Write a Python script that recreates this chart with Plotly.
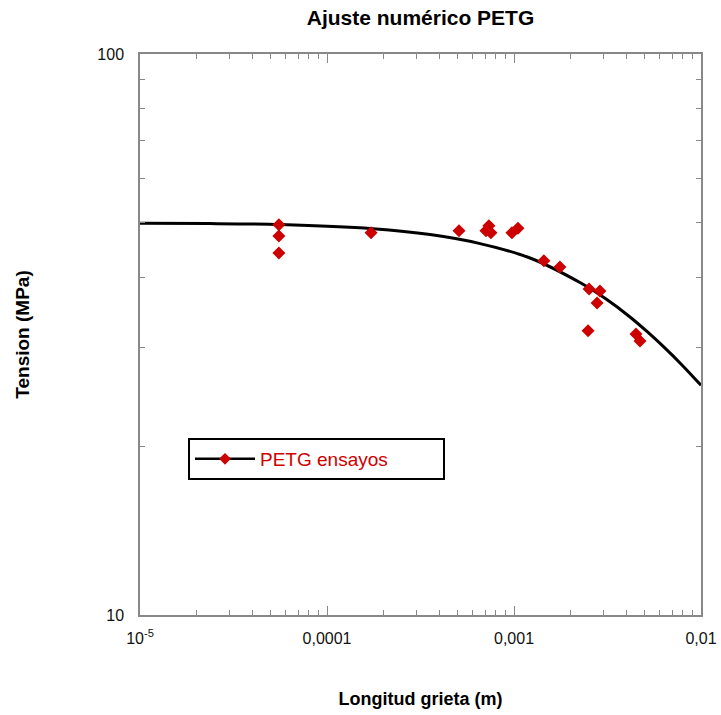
import plotly.graph_objects as go

# Experimental data (PETG ensayos)
crack_len = [5.53e-5, 5.53e-5, 5.53e-5, 1.72e-4, 5.08e-4, 7.08e-4, 7.34e-4, 7.53e-4,
             9.75e-4, 1.05e-3, 1.445e-3, 1.76e-3, 2.52e-3, 2.88e-3, 2.78e-3, 2.49e-3,
             4.49e-3, 4.72e-3]
stress = [49.6, 47.4, 44.2, 48.0, 48.4, 48.4, 49.4, 48.0,
          48.0, 48.9, 42.8, 41.7, 38.1, 37.8, 36.0, 32.1,
          31.7, 30.8]

# Numerical fit curve
fit_x = [1e-5, 2.367e-5, 5.61e-5, 1.762e-4, 3.555e-4, 6.58e-4, 1.218e-3, 2.253e-3,
         3.067e-3, 4.171e-3, 5.14e-3, 6.26e-3, 7.91e-3, 1e-2]
fit_y = [49.91, 49.85, 49.65, 48.80, 47.65, 45.92, 43.29, 39.14,
         36.68, 33.98, 32.02, 30.14, 27.91, 25.67]

x_tickvals = [1e-5, 1e-4, 1e-3, 1e-2]
x_ticktext = ["10<sup>-5</sup>", "0,0001", "0,001", "0,01"]
y_tickvals = [10, 100]
y_ticktext = ["10", "100"]

digits = [2, 3, 4, 5, 6, 7, 8, 9]
x_minor = [d * 10 ** e for e in (-5, -4, -3) for d in digits]
y_minor = [d * 10 for d in digits]

RED = "#cc0000"
FONT = "Liberation Sans, Arial, sans-serif"

fig = go.Figure()
fig.add_trace(go.Scatter(x=fit_x, y=fit_y, mode="lines",
                         line=dict(color="black", width=3, shape="spline", smoothing=0.8),
                         showlegend=False, hoverinfo="skip"))
fig.add_trace(go.Scatter(x=crack_len, y=stress, mode="markers",
                         marker=dict(symbol="diamond", size=10, color=RED), showlegend=False))
fig.add_trace(go.Scatter(x=[None], y=[None], mode="lines+markers", name="PETG ensayos",
                         line=dict(color="black", width=2.5),
                         marker=dict(symbol="diamond", size=9, color=RED)))

axis_common = dict(showgrid=False, zeroline=False, showline=True, linecolor="#888888", linewidth=1.5,
                   mirror="ticks", ticks="inside", ticklen=9, tickcolor="#888888", tickwidth=1,
                   automargin=False,
                   tickfont=dict(family=FONT, size=16, color="#111111"))

fig.update_xaxes(type="log", range=[-5, -2], tickmode="array", tickvals=x_tickvals, ticktext=x_ticktext,
                 ticklabelstandoff=8,
                 minor=dict(tickmode="array", tickvals=x_minor, ticks="inside", ticklen=5,
                            tickcolor="#888888", showgrid=False),
                 title=dict(text="<b>Longitud grieta (m)</b>", font=dict(family=FONT, size=18, color="black"),
                            standoff=46),
                 **axis_common)
fig.update_yaxes(type="log", range=[1, 2], tickmode="array", tickvals=y_tickvals, ticktext=y_ticktext,
                 ticklabelstandoff=11,
                 minor=dict(tickmode="array", tickvals=y_minor, ticks="inside", ticklen=5,
                            tickcolor="#888888", showgrid=False),
                 title=dict(text="<b>Tension (MPa)</b>", font=dict(family=FONT, size=19, color="black"),
                            standoff=63),
                 **axis_common)

fig.update_layout(
    width=721, height=715,
    margin=dict(l=140, r=20, t=54, b=100),
    paper_bgcolor="white", plot_bgcolor="white",
    title=dict(text="<b>Ajuste numérico PETG</b>", x=(140 + 701) / 2 / 721, xanchor="center",
               y=1 - 18 / 715, yanchor="middle", font=dict(family=FONT, size=21, color="black")),
    legend=dict(x=(188 - 140) / 561, y=(615 - 438) / 561, xanchor="left", yanchor="top",
                orientation="h", entrywidth=178, itemwidth=60,
                bgcolor="white", bordercolor="black", borderwidth=2,
                font=dict(family=FONT, size=19, color=RED)),
)

fig.write_html("out.html")
